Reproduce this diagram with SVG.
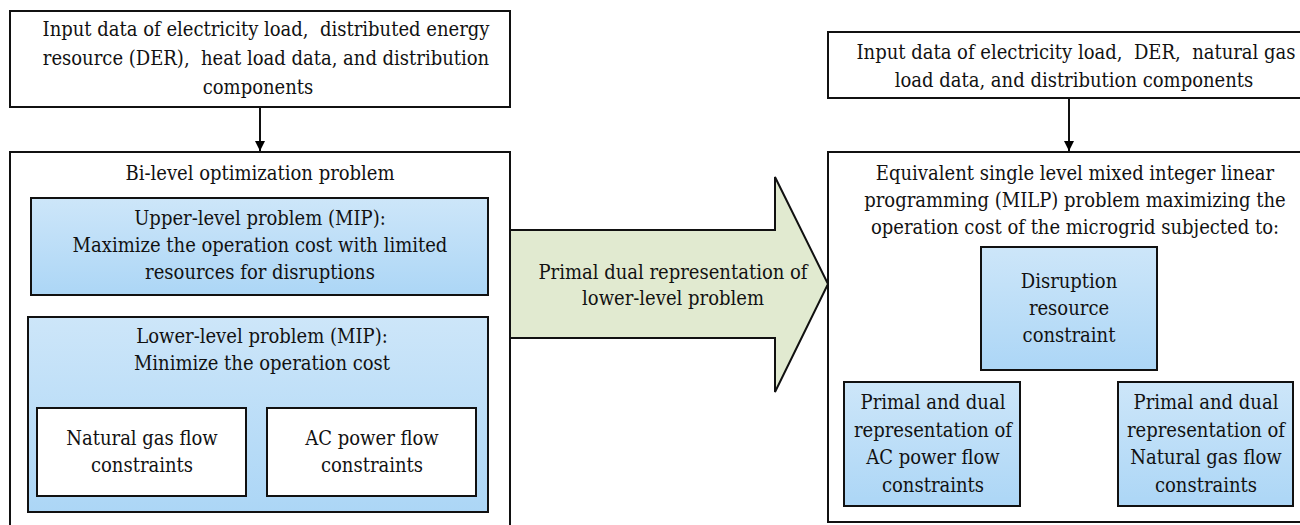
<svg xmlns="http://www.w3.org/2000/svg" width="1300" height="525" viewBox="0 0 1300 525">
<defs>
<linearGradient id="blue" x1="0" y1="0" x2="0" y2="1">
<stop offset="0" stop-color="#cde6f9"/>
<stop offset="1" stop-color="#acd6f6"/>
</linearGradient>
<marker id="ah" markerWidth="10" markerHeight="10" refX="10" refY="5" orient="auto" markerUnits="userSpaceOnUse">
<path d="M0,0 L10,5 L0,10 Z" fill="#000"/>
</marker>
</defs>
<style>
text{font-family:'DejaVu Serif Condensed','DejaVu Serif',serif;font-stretch:condensed;font-size:20px;fill:#111;text-anchor:middle}
.box{fill:#fff;stroke:#111;stroke-width:2}
.bb{fill:url(#blue);stroke:#111;stroke-width:2}
.con{stroke:#111;stroke-width:2;fill:none}
</style>
<rect width="1300" height="525" fill="#fff"/>
<g id="connectors">
<line class="con" x1="260" y1="107" x2="260" y2="151" marker-end="url(#ah)"/>
<line class="con" x1="1069" y1="98" x2="1069" y2="151" marker-end="url(#ah)"/>
</g>

<g id="input-left">
<rect class="box" x="10" y="11" width="500" height="96"/>
<text x="266" y="36">Input data of electricity load,&#160; distributed energy</text>
<text x="266" y="65">resource (DER),&#160; heat load data, and distribution</text>
<text x="258" y="94">components</text>
</g>

<g id="bilevel">
<rect class="box" x="10" y="152" width="500" height="380"/>
<text x="260" y="180">Bi-level optimization problem</text>
</g>

<g id="upper">
<rect class="bb" x="31" y="198" width="457" height="97"/>
<text x="260" y="225">Upper-level problem (MIP):</text>
<text x="260" y="252">Maximize the operation cost with limited</text>
<text x="260" y="279">resources for disruptions</text>
</g>

<g id="lower">
<rect class="bb" x="28" y="317" width="460" height="195"/>
<text x="262" y="343">Lower-level problem (MIP):</text>
<text x="262" y="370">Minimize the operation cost</text>
</g>

<g id="ng-left">
<rect class="box" x="37" y="408" width="209" height="88"/>
<text x="142" y="445">Natural gas flow</text>
<text x="142" y="472">constraints</text>
</g>

<g id="ac-left">
<rect class="box" x="267" y="408" width="209" height="88"/>
<text x="372" y="445">AC power flow</text>
<text x="372" y="472">constraints</text>
</g>

<g id="big-arrow">
<polygon points="510,230 775,230 775,177 828,284 775,392 775,338 510,338" fill="#e1ead0" stroke="#111" stroke-width="2"/>
<text x="673" y="279">Primal dual representation of</text>
<text x="673" y="305">lower-level problem</text>
</g>

<g id="input-right">
<rect class="box" x="828" y="32" width="500" height="66"/>
<text x="1076" y="59">Input data of electricity load,&#160; DER,&#160; natural gas</text>
<text x="1074" y="87">load data, and distribution components</text>
</g>

<g id="milp">
<rect class="box" x="828" y="152" width="500" height="370"/>
<text x="1075" y="180">Equivalent single level mixed integer linear</text>
<text x="1075" y="207">programming (MILP) problem maximizing the</text>
<text x="1075" y="234">operation cost of the microgrid subjected to:</text>
</g>

<g id="disruption">
<rect class="bb" x="981" y="247" width="176" height="123"/>
<text x="1069" y="288">Disruption</text>
<text x="1069" y="315">resource</text>
<text x="1069" y="342">constraint</text>
</g>

<g id="ac-right">
<rect class="bb" x="844" y="382" width="176" height="124"/>
<text x="933" y="409">Primal and dual</text>
<text x="933" y="437">representation of</text>
<text x="933" y="464">AC power flow</text>
<text x="933" y="492">constraints</text>
</g>

<g id="ng-right">
<rect class="bb" x="1118" y="382" width="175" height="124"/>
<text x="1206" y="409">Primal and dual</text>
<text x="1206" y="437">representation of</text>
<text x="1206" y="464">Natural gas flow</text>
<text x="1206" y="492">constraints</text>
</g>
</svg>
